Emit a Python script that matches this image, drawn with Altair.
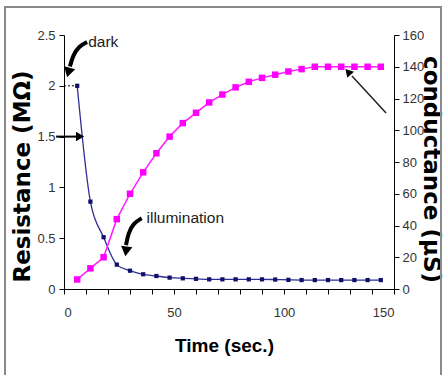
import altair as alt
import pandas as pd

# ---- data ----
time_s = [6, 12, 18, 24, 30, 36, 42, 48, 54, 60, 66, 72, 78, 84, 90, 96,
          102, 108, 114, 120, 126, 132, 138, 144]
resistance = [2.0, 0.86, 0.51, 0.24, 0.18, 0.145, 0.128, 0.112, 0.105, 0.10,
              0.095, 0.095, 0.095, 0.095, 0.095, 0.093, 0.09, 0.088, 0.088,
              0.088, 0.088, 0.088, 0.088, 0.088]
conductance = [6, 13, 20, 44, 60, 73.5, 85.5, 96, 104.5, 111, 117.5, 122.5,
               127, 130.5, 133, 135, 137, 138.5, 140, 140, 140, 140, 140, 140]

# annotation arrows (in data units)
arrow_id = ["dark", "dark", "dark", "dark", "illum", "illum", "illum", "illum",
            "r15", "r15"]
arrow_t = [10.5, 6.8, 4.1, 2.7, 35.3, 31.5, 29.2, 28.2, -3.6, 6.5]
arrow_r = [2.43, 2.39, 2.30, 2.19, 0.696, 0.647, 0.548, 0.433, 1.5, 1.5]
arrow_w = [4, 4, 4, 4, 4, 4, 4, 4, 2, 2]
head_t = [2.0, 28.2, 7.3]
head_r = [2.13, 0.37, 1.5]
head_angle = [195, 188, 90]
head_size = [130, 130, 90]

cond_arrow_t = [146.4, 130.9]
cond_arrow_g = [110.9, 134.2]
cond_head_t = [129.1]
cond_head_g = [136.7]

label_text = ["dark", "illumination"]
label_t = [11.0, 37.5]
label_r = [2.43, 0.70]

dot_t = [0, 6]
dot_r = [2.0, 2.0]

df = pd.DataFrame({"t": time_s, "R": resistance, "G": conductance})
arrows = pd.DataFrame({"id": arrow_id, "t": arrow_t, "R": arrow_r, "w": arrow_w,
                       "o": list(range(len(arrow_t)))})
heads = pd.DataFrame({"t": head_t, "R": head_r, "a": head_angle, "s": head_size})
carrow = pd.DataFrame({"t": cond_arrow_t, "G": cond_arrow_g})
chead = pd.DataFrame({"t": cond_head_t, "G": cond_head_g})
labels = pd.DataFrame({"txt": label_text, "t": label_t, "R": label_r})
dots = pd.DataFrame({"t": dot_t, "R": dot_r})

NARROW = "Liberation Sans"
BOLD = "DejaVu Sans"

x_scale = alt.Scale(domain=[0, 150], nice=False, zero=False)
x_axis = alt.Axis(values=list(range(0, 151, 10)),
                  labelExpr="datum.value % 50 == 0 ? datum.label : ''",
                  title="Time (sec.)", titleFont=NARROW, titleFontSize=19,
                  titleFontWeight="bold", titleColor="#000",
                  titleBaseline="middle", titleY=56, titleX=160,
                  labelFont=NARROW, labelFontSize=13, labelColor="#333",
                  labelPadding=12, tickSize=5, tickColor="#000",
                  domainColor="#000", grid=False)

r_scale = alt.Scale(domain=[0, 2.5], nice=False)
r_axis = alt.Axis(values=[0, 0.5, 1, 1.5, 2, 2.5], format="~g",
                  title="Resistance (MΩ)", titleFont=BOLD, titleFontSize=23,
                  titleFontWeight="bold", titleColor="#000",
                  titleAngle=-90, titleBaseline="middle", titleAlign="center",
                  titleX=-42, titleY=141,
                  labelFont=NARROW, labelFontSize=13, labelColor="#333",
                  labelPadding=4, tickSize=5, tickColor="#000",
                  domainColor="#000", grid=False)

g_scale = alt.Scale(domain=[0, 160], nice=False)
g_axis = alt.Axis(orient="right", values=list(range(0, 161, 20)),
                  title="conductance (µS)", titleFont=BOLD, titleFontSize=23,
                  titleFontWeight="bold", titleColor="#000",
                  titleAngle=90, titleBaseline="middle", titleAlign="center",
                  titleX=36, titleY=134,
                  labelFont=NARROW, labelFontSize=13, labelColor="#333",
                  labelPadding=3, tickSize=5, tickColor="#000",
                  domainColor="#000", grid=False)


def X(field="t"):
    return alt.X(field, type="quantitative", scale=x_scale, axis=x_axis)


def YR(field="R"):
    return alt.Y(field, type="quantitative", scale=r_scale, axis=r_axis)


def YG(field="G"):
    return alt.Y(field, type="quantitative", scale=g_scale, axis=g_axis)


base = alt.Chart(df)

frame = alt.Chart(pd.DataFrame({"k": [0]})).mark_rect(
    fillOpacity=0, stroke="#8a8a8a", strokeWidth=2).encode(
    x=alt.value(-59), x2=alt.value(377), y=alt.value(-28), y2=alt.value(360))

dotted = alt.Chart(dots).mark_line(color="#000", strokeDash=[2, 2],
                                   strokeWidth=1).encode(x=X(), y=YR())

blue_line = base.mark_line(color="#2e2e96", strokeWidth=1.3,
                           interpolate="monotone").encode(x=X(), y=YR())
blue_pts = base.mark_point(shape="square", filled=True, size=18,
                           color="#10106a", opacity=1).encode(x=X(), y=YR())

arrow_lines = alt.Chart(arrows).mark_line(color="#000", interpolate="basis").encode(
    x=X(), y=YR(), detail="id:N", order="o:Q",
    strokeWidth=alt.StrokeWidth("w:Q", scale=None, legend=None))
arrow_heads = alt.Chart(heads).mark_point(shape="triangle-up", filled=True,
                                          color="#000", opacity=1).encode(
    x=X(), y=YR(), angle=alt.Angle("a:Q", scale=None),
    size=alt.Size("s:Q", scale=None, legend=None))
texts = alt.Chart(labels).mark_text(font=NARROW, fontSize=15.5, align="left",
                                    baseline="middle", color="#222").encode(
    x=X(), y=YR(), text="txt:N")

left = alt.layer(frame, dotted, blue_line, blue_pts, arrow_lines, arrow_heads, texts)

pink_line = base.mark_line(color="#ff1aff", strokeWidth=1.5).encode(x=X(), y=YG())
pink_pts = base.mark_point(shape="square", filled=True, size=42,
                           color="#ff00ff", opacity=1).encode(x=X(), y=YG())
c_line = alt.Chart(carrow).mark_line(color="#222", strokeWidth=1.5).encode(
    x=X(), y=YG())
c_head = alt.Chart(chead).mark_point(shape="triangle-up", filled=True, size=80,
                                     angle=318, color="#000", opacity=1).encode(
    x=X(), y=YG())

right = alt.layer(pink_line, pink_pts, c_line, c_head)

chart = alt.layer(left, right).resolve_scale(y="independent").properties(
    width=330, height=254,
    padding={"left": 64, "top": 35, "right": 50, "bottom": 86},
    autosize="none", background="#ffffff"
).configure_view(stroke=None)

chart.save("out.html", embed_options={"renderer": "svg", "actions": False})
